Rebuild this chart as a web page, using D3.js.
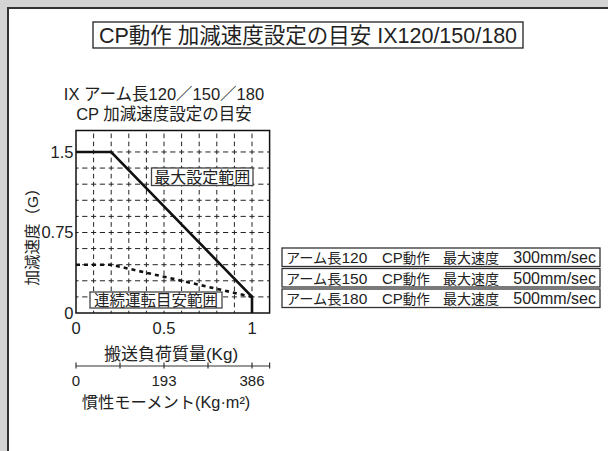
<!DOCTYPE html>
<html><head><meta charset="utf-8">
<script src="https://cdn.jsdelivr.net/npm/d3@7"></script>
<style>
html,body{margin:0;padding:0;background:#d4d4d4;}
svg{display:block;}
text{font-family:"Liberation Sans","Noto Sans CJK JP",sans-serif;fill:#222;}
</style></head>
<body>
<svg id="c" width="608" height="451"></svg>
<script>
// ---- data ----
const maxMass = [0, 0.2, 1, 1];          // 搬送負荷質量 (Kg)
const maxAccel = [1.5, 1.5, 0.15, 0];    // 最大設定範囲 (G)
const contMass = [0, 0.2, 1];
const contAccel = [0.45, 0.45, 0.15];    // 連続運転目安範囲 (G)
const yTicks = [0, 0.75, 1.5];
const xTicks = [0, 0.5, 1];
const inertiaTicks = [0, 96.5, 193, 289.5, 386];
const inertiaLabels = [0, 193, 386];
const armLengths = ["120", "150", "180"];
const armSpeeds = ["300mm/sec", "500mm/sec", "500mm/sec"];

const svg = d3.select("#c");
// panel
svg.append("rect").attr("x",8).attr("y",8).attr("width",620).attr("height",460)
  .attr("fill","#fff").attr("stroke","#333").attr("stroke-width",2);

// title box
svg.append("rect").attr("x",93).attr("y",22).attr("width",430).attr("height",26)
  .attr("fill","#fff").attr("stroke","#222").attr("stroke-width",1.3);
svg.append("text").attr("x",308).attr("y",43).attr("text-anchor","middle")
  .attr("font-size",21.5).text("CP動作 加減速度設定の目安 IX120/150/180");

// chart titles
svg.append("text").attr("x",164).attr("y",100).attr("text-anchor","middle")
  .attr("font-size",16.5).text("IX アーム長120／150／180");
svg.append("text").attr("x",164).attr("y",120).attr("text-anchor","middle")
  .attr("font-size",16.5).text("CP 加減速度設定の目安");

const x = d3.scaleLinear().domain([0,1.1]).range([76,269.6]);
const y = d3.scaleLinear().domain([0,1.7]).range([313,130.5]);

// grid
const sx = x(0.1)-x(0), sy = y(0)-y(0.15);
const g = svg.append("g");
g.selectAll("line.h").data(d3.range(1,11).map(i=>i*0.15)).join("line")
  .attr("x1",x(0)).attr("x2",x(1.1)).attr("y1",d=>y(d)).attr("y2",d=>y(d))
  .attr("stroke","#222").attr("stroke-width",1)
  .attr("stroke-dasharray",`${sx/2-3.6},3.6`).attr("stroke-dashoffset",(sx/2-3.6)/2);
g.selectAll("line.v").data(d3.range(1,11).map(i=>i*0.1)).join("line")
  .attr("x1",d=>x(d)).attr("x2",d=>x(d)).attr("y1",y(1.7)).attr("y2",y(0))
  .attr("stroke","#222").attr("stroke-width",1)
  .attr("stroke-dasharray",`${sy/2-3.4},3.4`)
  .attr("stroke-dashoffset",-((y(0)-y(1.7))%(sy/2)) + (sy/2-3.4)/2);

// plot border
svg.append("rect").attr("x",x(0)).attr("y",y(1.7)).attr("width",x(1.1)-x(0))
  .attr("height",y(0)-y(1.7)).attr("fill","none").attr("stroke","#111").attr("stroke-width",1.5);

// lines
const line = d3.line().x(d=>x(d[0])).y(d=>y(d[1]));
svg.append("path").attr("d",line(maxMass.map((m,i)=>[m,maxAccel[i]])))
  .attr("fill","none").attr("stroke","#111").attr("stroke-width",2.6);
svg.append("path").attr("d",line(contMass.map((m,i)=>[m,contAccel[i]])))
  .attr("fill","none").attr("stroke","#111").attr("stroke-width",2.6)
  .attr("stroke-dasharray","4,4");

// region labels
function boxLabel(cx, cy, w, h, t, fs){
  svg.append("rect").attr("x",cx).attr("y",cy).attr("width",w).attr("height",h)
    .attr("fill","#fff").attr("stroke","#444").attr("stroke-width",1.3);
  svg.append("text").attr("x",cx+w/2).attr("y",cy+h-2.5).attr("text-anchor","middle")
    .attr("font-size",fs).text(t);
}
boxLabel(151.5,168,101.5,17.5,"最大設定範囲",16);
boxLabel(90,292,132,16,"連続運転目安範囲",15.5);

// y axis labels
svg.selectAll("text.yt").data(yTicks).join("text")
  .attr("x",73.5).attr("y",d=>y(d)+6).attr("text-anchor","end")
  .attr("font-size",16.5).text(d=>d);
svg.append("text").attr("transform","translate(38,233) rotate(-90)")
  .attr("text-anchor","middle").attr("font-size",15.5).text("加減速度（G）");

// x axis labels
svg.selectAll("text.xt").data(xTicks).join("text")
  .attr("x",d=>x(d)).attr("y",334).attr("text-anchor","middle")
  .attr("font-size",16.5).text(d=>d);
svg.append("text").attr("x",171).attr("y",360).attr("text-anchor","middle")
  .attr("font-size",17).text("搬送負荷質量(Kg)");

// inertia axis
const xi = d3.scaleLinear().domain([0,386*1.1]).range([76,269.6]);
const ax = svg.append("g");
ax.append("line").attr("x1",xi(0)).attr("x2",xi(386*1.1)).attr("y1",366).attr("y2",366)
  .attr("stroke","#333").attr("stroke-width",1.2);
ax.selectAll("line.t").data(inertiaTicks.concat([386*1.1])).join("line")
  .attr("x1",d=>xi(d)).attr("x2",d=>xi(d)).attr("y1",362.5).attr("y2",368.5)
  .attr("stroke","#333").attr("stroke-width",1.2);
ax.selectAll("text").data(inertiaLabels).join("text")
  .attr("x",d=>xi(d)).attr("y",386).attr("text-anchor","middle")
  .attr("font-size",15).text(d=>d);
svg.append("text").attr("x",166).attr("y",408).attr("text-anchor","middle")
  .attr("font-size",16.3).text("慣性モーメント(Kg·m²)");

// legend boxes
armLengths.forEach((a,i)=>{
  const top = 248 + i*20.5;
  svg.append("rect").attr("x",282).attr("y",top).attr("width",318).attr("height",18.5)
    .attr("fill","#fff").attr("stroke","#333").attr("stroke-width",1.3);
  const ty = top+15;
  const t1 = svg.append("text").attr("x",286).attr("y",ty).attr("font-size",14.2);
  t1.append("tspan").text("アーム長");
  t1.append("tspan").attr("font-size",15.5).text(a);
  svg.append("text").attr("x",382).attr("y",ty).attr("font-size",13.5)
    .call(t=>{t.append("tspan").attr("font-size",15).text("CP"); t.append("tspan").text("動作");});
  svg.append("text").attr("x",443).attr("y",ty).attr("font-size",14).text("最大速度");
  svg.append("text").attr("x",596).attr("y",ty).attr("font-size",16).attr("text-anchor","end").text(armSpeeds[i]);
});
</script>
</body></html>
